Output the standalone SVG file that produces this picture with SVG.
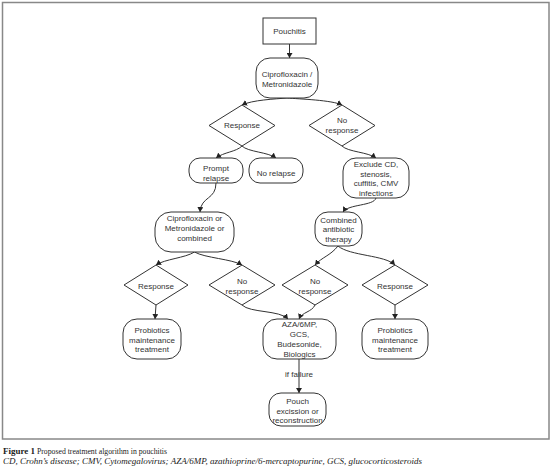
<svg xmlns="http://www.w3.org/2000/svg" width="553" height="471" viewBox="0 0 553 471">
<defs>
<marker id="ah" markerUnits="userSpaceOnUse" markerWidth="6" markerHeight="6" refX="5" refY="3" orient="auto">
<path d="M0,0 L5,3 L0,6 Z" fill="#222"/>
</marker>
<style>
.n{fill:#fff;stroke:#333;stroke-width:1}
.t{font-family:"Liberation Sans",Arial,sans-serif;font-size:8px;fill:#333;text-anchor:middle}
.c{fill:none;stroke:#333;stroke-width:1;marker-end:url(#ah)}
.cap{font-family:"Liberation Serif","Times New Roman",serif;font-size:9px;fill:#222}
</style>
</defs>
<rect x="0" y="0" width="553" height="471" fill="#fff"/>
<rect x="2.5" y="2.5" width="546.5" height="436.5" fill="none" stroke="#888" stroke-width="1.5"/>

<g id="connectors">
<path class="c" d="M289.5,44 L289.5,58"/>
<path class="c" d="M287,98 C275,99 252,100 242,105"/>
<path class="c" d="M287,98 C299,99 332,100 342,105"/>
<path class="c" d="M242,146 C236,152 224,152 216,158"/>
<path class="c" d="M242,146 C248,152 268,152 276,158"/>
<path class="c" d="M342,146 C348,152 368,152 376,158"/>
<path class="c" d="M216,183 C216,200 201,196 200,212"/>
<path class="c" d="M376,198 C374,206 348,204 343,212"/>
<path class="c" d="M194.5,252 C185,258 165,259 156,265"/>
<path class="c" d="M194.5,252 C205,258 232,259 242,265"/>
<path class="c" d="M338,246 C330,256 322,257 315,265"/>
<path class="c" d="M338,246 C350,256 385,255 395,265"/>
<path class="c" d="M156,305 L155,319"/>
<path class="c" d="M242,305 C250,313 280,310 288,319"/>
<path class="c" d="M315,305 C312,312 302,312 299,319"/>
<path class="c" d="M395,305 L395,319"/>
<path class="c" d="M299,359 L299,393"/>
</g>

<g id="pouchitis"><rect class="n" x="263" y="18" width="53" height="26"/><text class="t" x="289.5" y="34">Pouchitis</text></g>
<g id="cipro1"><rect class="n" x="256" y="58" width="62" height="40" rx="14"/><text class="t" x="287" y="77">Ciprofloxacin /</text><text class="t" x="287" y="86.5">Metronidazole</text></g>
<g id="response1"><path class="n" d="M242,105 L275,125.5 L242,146 L209,125.5 Z"/><text class="t" x="242" y="128">Response</text></g>
<g id="noresponse1"><path class="n" d="M342,105 L375,125.5 L342,146 L309,125.5 Z"/><text class="t" x="342" y="123">No</text><text class="t" x="342" y="132.5">response</text></g>
<g id="prompt"><rect class="n" x="189" y="158" width="54" height="25" rx="11"/><text class="t" x="216" y="171">Prompt</text><text class="t" x="216" y="181">relapse</text></g>
<g id="norelapse"><rect class="n" x="249" y="158" width="54" height="25" rx="11"/><text class="t" x="276" y="176">No relapse</text></g>
<g id="exclude"><rect class="n" x="343" y="158" width="66" height="40" rx="13"/><text class="t" x="376" y="167">Exclude CD,</text><text class="t" x="376" y="176.5">stenosis,</text><text class="t" x="376" y="186">cuffitis, CMV</text><text class="t" x="376" y="195.5">infections</text></g>
<g id="cipro2"><rect class="n" x="155" y="212" width="79" height="40" rx="16"/><text class="t" x="194.5" y="221">Ciprofloxacin or</text><text class="t" x="194.5" y="231">Metronidazole or</text><text class="t" x="194.5" y="241">combined</text></g>
<g id="combined"><rect class="n" x="315" y="212" width="47" height="34" rx="13"/><text class="t" x="338.5" y="222.5">Combined</text><text class="t" x="338.5" y="232">antibiotic</text><text class="t" x="338.5" y="241.5">therapy</text></g>
<g id="response2"><path class="n" d="M156,265 L188,285 L156,305 L124,285 Z"/><text class="t" x="156" y="288.5">Response</text></g>
<g id="noresponse2"><path class="n" d="M242,265 L275,285 L242,305 L209,285 Z"/><text class="t" x="242" y="284">No</text><text class="t" x="242" y="294">response</text></g>
<g id="noresponse3"><path class="n" d="M315,265 L348,285 L315,305 L282,285 Z"/><text class="t" x="315" y="284">No</text><text class="t" x="315" y="294">response</text></g>
<g id="response3"><path class="n" d="M395,265 L428,285 L395,305 L362,285 Z"/><text class="t" x="395" y="288.5">Response</text></g>
<g id="probiotics1"><rect class="n" x="123" y="319" width="58" height="40" rx="14"/><text class="t" x="152" y="333">Probiotics</text><text class="t" x="152" y="342.5">maintenance</text><text class="t" x="152" y="352">treatment</text></g>
<g id="aza"><rect class="n" x="263" y="319" width="73" height="40" rx="14"/><text class="t" x="299.5" y="327">AZA/6MP,</text><text class="t" x="299.5" y="336.5">GCS,</text><text class="t" x="299.5" y="346.5">Budesonide,</text><text class="t" x="299.5" y="356.5">Biologics</text></g>
<g id="probiotics2"><rect class="n" x="362" y="319" width="66" height="40" rx="14"/><text class="t" x="395" y="333">Probiotics</text><text class="t" x="395" y="342.5">maintenance</text><text class="t" x="395" y="352">treatment</text></g>
<g id="iffailure"><text class="t" x="299" y="377">if failure</text></g>
<g id="pouch"><rect class="n" x="269" y="393" width="57" height="33" rx="12"/><text class="t" x="297.5" y="404">Pouch</text><text class="t" x="297.5" y="413.5">excission or</text><text class="t" x="297.5" y="423">reconstruction</text></g>

<text class="cap" x="3" y="454" font-weight="bold" textLength="32" lengthAdjust="spacingAndGlyphs">Figure 1</text>
<text class="cap" x="37" y="454" textLength="130" lengthAdjust="spacingAndGlyphs">Proposed treatment algorithm in pouchitis</text>
<text class="cap" x="3" y="464" font-style="italic" textLength="419" lengthAdjust="spacingAndGlyphs">CD, Crohn’s disease; CMV, Cytomegalovirus; AZA/6MP, azathioprine/6-mercaptopurine, GCS, glucocorticosteroids</text>
</svg>
